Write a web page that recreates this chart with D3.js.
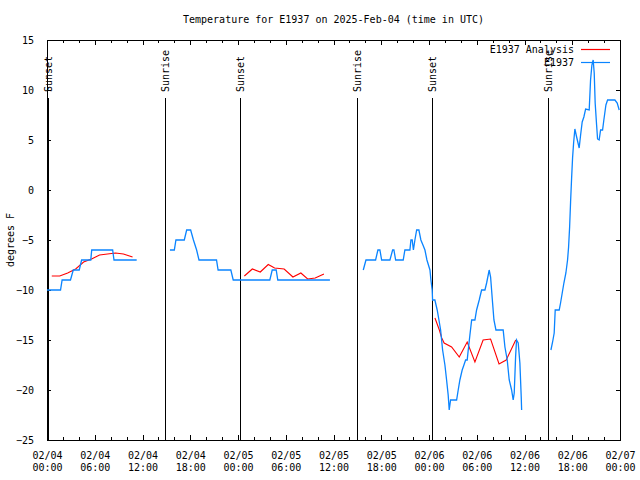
<!DOCTYPE html>
<html><head><meta charset="utf-8">
<script src="https://cdn.jsdelivr.net/npm/d3@7"></script>
<style>body{margin:0;background:#fff}svg{display:block}</style>
</head><body><svg id="c" width="640" height="480"></svg>
<script>
// ---------- data ----------
const startUTC = Date.UTC(2025, 1, 4, 0, 0);
const endUTC = Date.UTC(2025, 1, 7, 0, 0);
const titleText = "Temperature for E1937 on 2025-Feb-04 (time in UTC)";
const yLabel = "degrees F";
const yTicks = [-25, -20, -15, -10, -5, 0, 5, 10, 15];
const xMajorHours = [0, 6, 12, 18, 24, 30, 36, 42, 48, 54, 60, 66, 72];
const seriesNames = ["E1937 Analysis", "E1937"];
// sunrise / sunset events: [label, hours since 02/04 00:00 UTC]
const sunEvents = [["Sunset", 0.13], ["Sunrise", 14.86], ["Sunset", 24.28],
                   ["Sunrise", 38.9], ["Sunset", 48.4], ["Sunrise", 62.98]];
// observations (E1937), [hours, degF], separate runs
const obs1 = [[0,-10],[1.7,-10],[1.9,-9],[2.95,-9],[3.3,-8],[4.05,-8],[4.35,-7],[5.5,-7],
  [5.62,-6],[8.25,-6],[8.42,-7],[11.27,-7]];
const obs2 = [[15.45,-6],[16.0,-6],[16.2,-5],[17.25,-5],[17.55,-4],[18.05,-4],[18.4,-5],
  [18.8,-6],[19.1,-7],[21.3,-7],[21.5,-8],[23.1,-8],[23.4,-9],[28.0,-9],[28.3,-8],[28.8,-8],
  [29.0,-9],[35.55,-9]];
const obs3 = [[39.74,-8],[40.08,-7],[41.29,-7],[41.58,-6],[41.83,-6],[42.05,-7],[43.09,-7],
  [43.43,-6],[43.59,-6],[43.81,-7],[44.76,-7],[44.97,-6],[45.6,-6],[45.73,-5],[45.89,-5],
  [46.04,-6],[46.23,-5],[46.45,-4],[46.73,-4],[46.98,-5],[47.24,-5.5],[47.49,-6],[47.74,-7],
  [48.12,-8],[48.24,-9],[48.4,-10],[48.45,-11],[48.74,-11],[49.03,-12],[49.25,-13],[49.46,-14],
  [49.71,-16],[50.0,-17.5],[50.21,-19],[50.41,-20.5],[50.54,-22],[50.71,-21],[51.47,-21],
  [51.67,-20],[51.88,-19],[52.17,-18],[52.39,-17.5],[52.6,-17],[52.8,-17],[52.93,-16],
  [53.14,-14.5],[53.36,-13],[53.77,-13],[53.98,-12],[54.31,-11],[54.61,-10],[55.03,-10],
  [55.24,-9.3],[55.44,-8.5],[55.56,-8],[55.74,-8.7],[55.99,-11.3],[56.16,-13],[56.41,-14],
  [57.32,-14],[57.54,-15.7],[57.83,-17],[58.08,-19],[58.38,-20],[58.58,-21],[58.71,-20.3],
  [58.88,-16.7],[59.0,-15],[59.21,-15.3],[59.42,-17.3],[59.59,-20.7],[59.64,-22]];
const obs4 = [[63.32,-16],[63.53,-15.2],[63.73,-14.3],[63.86,-12],[64.36,-12],[64.53,-11.3],
  [64.74,-10.3],[64.95,-9.3],[65.2,-8.3],[65.41,-7],[65.54,-5.7],[65.67,-3.7],[65.79,-1.2],
  [65.92,1.2],[66.04,3.2],[66.17,4.7],[66.33,6.1],[66.55,5.3],[66.87,4.2],[67.05,5.5],
  [67.25,6.8],[67.46,7.3],[67.68,8.1],[68.13,8],[68.3,11],[68.47,12.5],[68.63,13],[68.76,11.7],
  [68.88,8.7],[69.06,6.5],[69.18,5.1],[69.38,5],[69.56,6],[69.81,6],[69.97,7],[70.23,8.5],
  [70.44,9],[71.36,9],[71.65,8.7],[71.9,8]];
// analysis (E1937 Analysis), [hours, degF]
const ana1 = [[0.6,-8.6],[1.6,-8.6],[2.6,-8.3],[3.6,-7.9],[4.6,-7.2],[5.6,-6.9],[6.6,-6.5],
  [7.6,-6.4],[8.6,-6.3],[9.6,-6.4],[10.75,-6.7]];
const ana2 = [[24.8,-8.6],[25.8,-7.9],[26.8,-8.2],[27.8,-7.45],[28.6,-7.8],[29.8,-7.9],
  [30.9,-8.7],[31.9,-8.3],[32.75,-8.9],[33.7,-8.8],[34.8,-8.4]];
const ana3 = [[48.75,-12.8],[49.3,-14],[49.6,-14.8],[49.9,-15.3],[50.84,-15.7],[51.8,-16.7],
  [52.8,-15.2],[53.77,-17.2],[54.8,-15],[55.74,-14.9],[56.8,-17.4],[57.7,-17],[58.9,-15]];

const obsRuns = [obs1, obs2, obs3, obs4];
const anaRuns = [ana1, ana2, ana3];
const colors = { ana: "#ff0000", obs: "#0a84ff" };

// ---------- chart ----------
const W = 640, H = 480;
const M = { left: 47, right: 620, top: 40, bottom: 440 };
const FONT = "'DejaVu Sans Mono', monospace";
const toDate = h => new Date(startUTC + h * 3600000);

const x = d3.scaleUtc().domain([new Date(startUTC), new Date(endUTC)]).range([M.left, M.right]);
const y = d3.scaleLinear().domain([-25, 15]).range([M.bottom, M.top]);

const svg = d3.select("#c");
svg.append("rect").attr("width", W).attr("height", H).attr("fill", "#fff");

const majorDates = xMajorHours.map(toDate);
const minorDates = d3.utcHour.every(2).range(new Date(startUTC), new Date(endUTC + 1));

function styleAxis(g) {
  g.select(".domain").remove();
  g.selectAll("line").attr("stroke", "#000").attr("shape-rendering", "crispEdges");
  g.selectAll("text").attr("font-family", FONT).attr("font-size", 10).attr("fill", "#000");
}

// minor ticks bottom/top
svg.append("g").attr("transform", `translate(0,${M.bottom})`)
  .call(d3.axisBottom(x).tickValues(minorDates).tickSize(-3).tickFormat(""))
  .call(styleAxis);
svg.append("g").attr("transform", `translate(0,${M.top})`)
  .call(d3.axisTop(x).tickValues(minorDates).tickSize(-3).tickFormat(""))
  .call(styleAxis);
// major ticks bottom with two-line labels
const fmtDay = d3.utcFormat("%m/%d"), fmtTime = d3.utcFormat("%H:%M");
svg.append("g").attr("transform", `translate(0,${M.bottom})`)
  .call(d3.axisBottom(x).tickValues(majorDates).tickSize(-5).tickPadding(18).tickFormat(""))
  .call(styleAxis)
  .call(g => g.selectAll(".tick").each(function (d) {
    const t = d3.select(this).select("text").attr("y", 0).attr("dy", null).text(null);
    t.append("tspan").attr("x", 0).attr("y", 18.5).text(fmtDay(d));
    t.append("tspan").attr("x", 0).attr("y", 30.5).text(fmtTime(d));
  }));
svg.append("g").attr("transform", `translate(0,${M.top})`)
  .call(d3.axisTop(x).tickValues(majorDates).tickSize(-5).tickFormat(""))
  .call(styleAxis);
// y axes
svg.append("g").attr("transform", `translate(${M.left},0)`)
  .call(d3.axisLeft(y).tickValues(yTicks).tickSize(-4).tickPadding(13).tickFormat(d3.format("d")))
  .call(styleAxis)
  .call(g => g.selectAll("text").attr("dy", "0.35em"));
svg.append("g").attr("transform", `translate(${M.right},0)`)
  .call(d3.axisRight(y).tickValues(yTicks).tickSize(-4).tickFormat(""))
  .call(styleAxis);

// frame
svg.append("rect").attr("x", M.left + 0.5).attr("y", M.top + 0.5)
  .attr("width", M.right - M.left).attr("height", M.bottom - M.top)
  .attr("fill", "none").attr("stroke", "#000").attr("stroke-width", 1)
  .attr("shape-rendering", "crispEdges");

// sunrise / sunset lines
const sun = svg.append("g");
sunEvents.forEach(([label, h]) => {
  const sx = Math.round(x(toDate(h))) + 0.5;
  sun.append("line").attr("x1", sx).attr("x2", sx).attr("y1", 98).attr("y2", M.bottom)
    .attr("stroke", "#000").attr("stroke-width", 1).attr("shape-rendering", "crispEdges");
  sun.append("text").attr("transform", `translate(${sx + 3.5},92) rotate(-90)`)
    .attr("font-family", FONT).attr("font-size", 10).attr("fill", "#000").text(label);
});

// lines
const line = d3.line().x(d => x(toDate(d[0]))).y(d => y(d[1]));
const plot = svg.append("g");
anaRuns.forEach(r => plot.append("path").attr("d", line(r)).attr("fill", "none")
  .attr("stroke", colors.ana).attr("stroke-width", 1.1));
obsRuns.forEach(r => plot.append("path").attr("d", line(r)).attr("fill", "none")
  .attr("stroke", colors.obs).attr("stroke-width", 1.3));

// legend
const leg = svg.append("g");
[[seriesNames[0], colors.ana, 49], [seriesNames[1], colors.obs, 62]].forEach(([name, c, ly]) => {
  leg.append("text").attr("x", 574).attr("y", ly + 4).attr("text-anchor", "end")
    .attr("font-family", FONT).attr("font-size", 10).attr("fill", "#000").text(name);
  leg.append("line").attr("x1", 581).attr("x2", 610).attr("y1", ly + 0.5).attr("y2", ly + 0.5)
    .attr("stroke", c).attr("stroke-width", 1.2);
});

// title and y label
svg.append("text").attr("x", (M.left + M.right) / 2).attr("y", 23).attr("text-anchor", "middle")
  .attr("font-family", FONT).attr("font-size", 10).attr("fill", "#000").text(titleText);
svg.append("text").attr("transform", `translate(14,240) rotate(-90)`).attr("text-anchor", "middle")
  .attr("font-family", FONT).attr("font-size", 10).attr("fill", "#000").text(yLabel);
</script></body></html>
